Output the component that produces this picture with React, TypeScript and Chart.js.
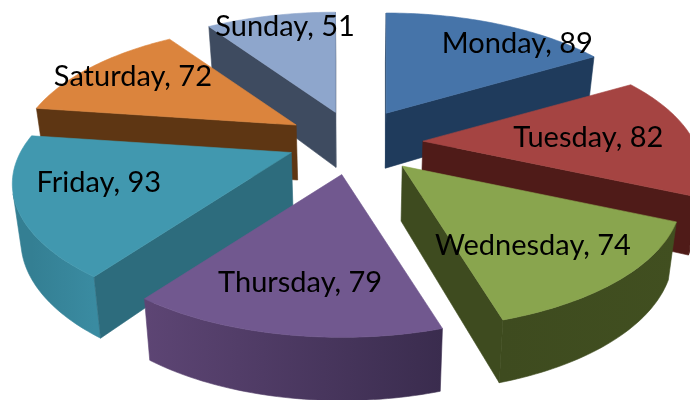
import React, { useEffect, useRef } from "react";
import { Chart, registerables } from "chart.js";

Chart.register(...registerables);

const days = ["Monday", "Tuesday", "Wednesday", "Thursday", "Friday", "Saturday", "Sunday"];
const counts = [89, 82, 74, 79, 93, 72, 51];

const topColors = ["#4674a9", "#a54442", "#89a54e", "#71588f", "#4198af", "#db843d", "#8ea6cc"];
const cutColors = ["#1f3b5c", "#4f1b18", "#3e4b1f", "#3d2e54", "#2d6c7d", "#5e3613", "#3e4b60"];
const wallFrom = ["#2a4a70", "#6a2422", "#414f20", "#3a2c4e", "#3a8ba1", "#5e3613", "#4a5a75"];
const wallTo = ["#2a4a70", "#4f1b18", "#3e4b1f", "#5d4574", "#347f93", "#5e3613", "#4a5a75"];
const labelFracX = [1.18, 0.62, 0.6, 0.7, 0.7, 0.8, 0.78];
const labelFracY = [0.78, 0.5, 0.7, 0.675, 0.57, 0.83, 0.89];
const nudgeX = [-2, 1, 3, -2, -2, -2, 0];
const nudgeY = [-2, 0, -1, 0, -3, -1, 0];

const CX = 355;
const CY = 143;
const RX = 271;
const RY = 124;
const PERSP = 0.238;
const LIFT = 0.478;
const DEPTH = 55;

type Pt = { x: number; y: number; c: number };

function project(theta: number, r: number) {
  const s = Math.sin(theta) * r;
  const c = Math.cos(theta) * r;
  const d = 1 + PERSP * c;
  return { x: (RX * s) / d, y: (-RY * c) / d, c };
}

function lower(p: Pt): Pt {
  return { x: CX + (p.x - CX) * 0.975, y: p.y + DEPTH / (1 + 0.13 * p.c), c: p.c };
}

function area(pts: { x: number; y: number }[]) {
  let a = 0;
  pts.forEach((p, i) => {
    const q = pts[(i + 1) % pts.length];
    a += p.x * q.y - q.x * p.y;
  });
  return a / 2;
}

function fillPath(ctx: CanvasRenderingContext2D, pts: { x: number; y: number }[], color: string | CanvasGradient) {
  ctx.beginPath();
  pts.forEach((p, i) => (i ? ctx.lineTo(p.x, p.y) : ctx.moveTo(p.x, p.y)));
  ctx.closePath();
  ctx.fillStyle = color;
  ctx.strokeStyle = color;
  ctx.lineWidth = 0.6;
  ctx.fill();
  ctx.stroke();
}

const pie3d = {
  id: "pie3d",
  beforeDatasetsDraw(chart: any) {
    const ctx: CanvasRenderingContext2D = chart.ctx;
    const arcs = chart.getDatasetMeta(0).data;
    const items = arcs.map((arc: any, i: number) => {
      const { startAngle, endAngle } = arc.getProps(["startAngle", "endAngle"], true);
      const a0 = startAngle + Math.PI / 2;
      const a1 = endAngle + Math.PI / 2;
      return { i, a0, a1, mid: (a0 + a1) / 2, off: arc.options.offset / 2 };
    });
    items.sort((p: any, q: any) => Math.cos(q.mid) - Math.cos(p.mid));
    ctx.save();
    for (const it of items) {
      const ax = CX + Math.sin(it.mid) * it.off + nudgeX[it.i];
      const ay = CY - Math.cos(it.mid) * it.off * LIFT + nudgeY[it.i];
      const place = (t: number): Pt => {
        const p = project(t, 1);
        return { x: ax + p.x, y: ay + p.y, c: p.c };
      };
      const rim: Pt[] = [];
      const n = Math.ceil((it.a1 - it.a0) / 0.02);
      for (let k = 0; k <= n; k++) rim.push(place(it.a0 + ((it.a1 - it.a0) * k) / n));
      const apex: Pt = { x: ax, y: ay, c: 0 };
      const ring = [apex, ...rim];
      const grad = ctx.createLinearGradient(rim[0].x, 0, rim[n].x, 0);
      grad.addColorStop(0, wallFrom[it.i]);
      grad.addColorStop(1, wallTo[it.i]);
      const cutA = [apex, rim[0], lower(rim[0]), lower(apex)];
      const cutB = [rim[n], apex, lower(apex), lower(rim[n])];
      const runs: Pt[][] = [];
      let run: Pt[] = [];
      for (let k = 0; k < n; k++) {
        const q = [rim[k], rim[k + 1], lower(rim[k + 1]), lower(rim[k])];
        if (area(q) < 0) {
          if (!run.length) run.push(rim[k]);
          run.push(rim[k + 1]);
        } else if (run.length) {
          runs.push(run);
          run = [];
        }
      }
      if (run.length) runs.push(run);
      for (const r of runs) {
        fillPath(ctx, [...r, ...r.slice().reverse().map(lower)], grad);
      }
      if (area(cutA) < 0) fillPath(ctx, cutA, cutColors[it.i]);
      if (area(cutB) < 0) fillPath(ctx, cutB, cutColors[it.i]);
      fillPath(ctx, ring, topColors[it.i]);
    }
    ctx.font = '29px "Lato", "Open Sans", sans-serif';
    ctx.fillStyle = "#000";
    ctx.textAlign = "center";
    ctx.textBaseline = "middle";
    for (const it of items) {
      const ax = CX + Math.sin(it.mid) * it.off + nudgeX[it.i];
      const ay = CY - Math.cos(it.mid) * it.off * LIFT + nudgeY[it.i];
      const p = project(it.mid, 1);
      ctx.fillText(
        `${days[it.i]}, ${counts[it.i]}`,
        ax + p.x * labelFracX[it.i],
        ay + p.y * labelFracY[it.i]
      );
    }
    ctx.restore();
    return false;
  },
};

export default function App() {
  const ref = useRef<HTMLCanvasElement>(null);
  useEffect(() => {
    const chart = new Chart(ref.current!, {
      type: "pie",
      data: {
        labels: days,
        datasets: [{ data: counts, backgroundColor: topColors, offset: 134, borderWidth: 0 }],
      },
      options: {
        responsive: false,
        animation: false,
        events: [],
        plugins: { legend: { display: false }, tooltip: { enabled: false } },
      },
      plugins: [pie3d],
    } as any);
    return () => chart.destroy();
  }, []);
  return (
    <div style={{ position: "fixed", left: 0, top: 0, width: 690, height: 400, background: "#fff" }}>
      <canvas ref={ref} width={690} height={400} style={{ display: "block" }} />
    </div>
  );
}
